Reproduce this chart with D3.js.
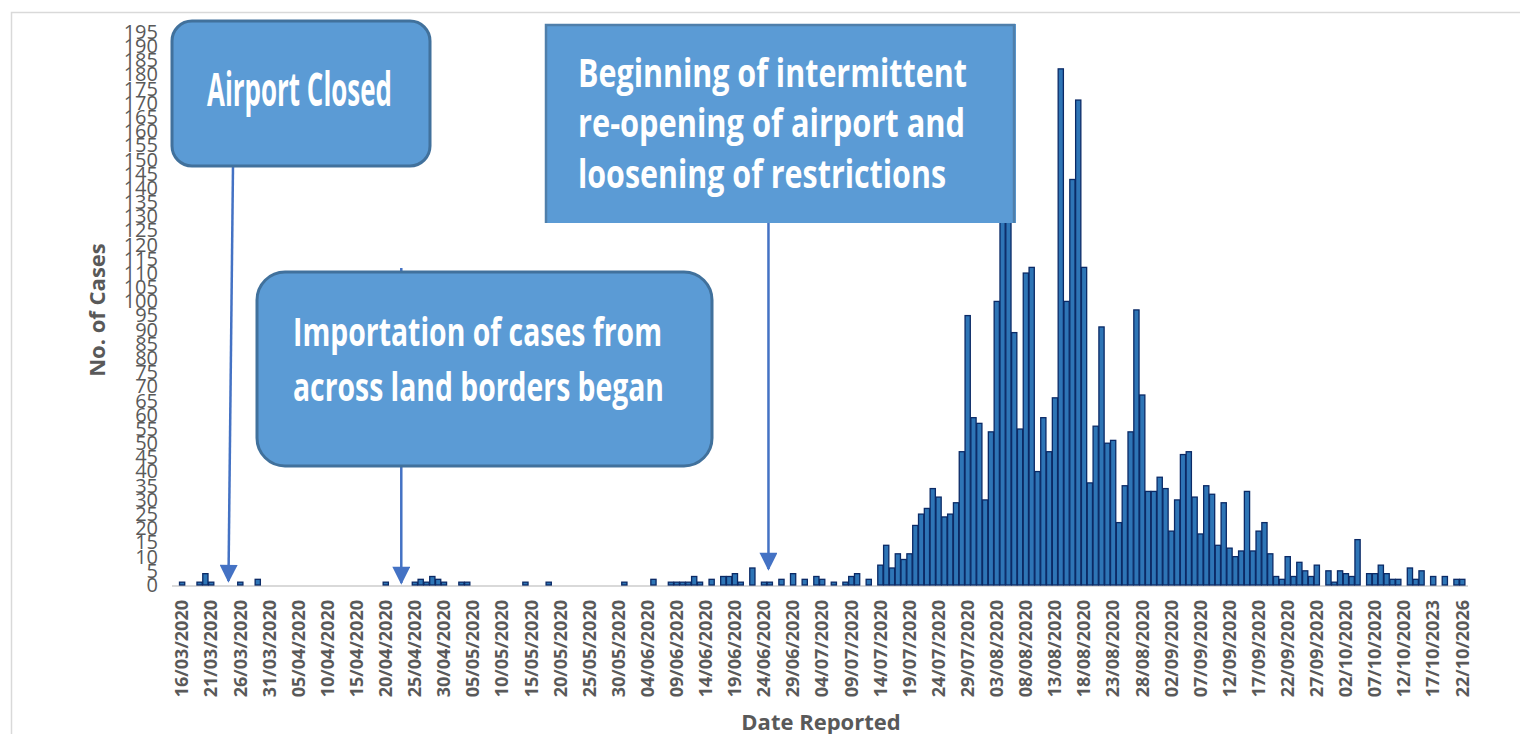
<!DOCTYPE html>
<html>
<head>
<meta charset="utf-8">
<script src="https://cdn.jsdelivr.net/npm/d3@7"></script>
<style>
  body { margin: 0; background: #fff; }
  svg { display: block; font-family: 'Open Sans', sans-serif; }
</style>
</head>
<body>
<div id="chart"></div>
<script>
// Daily reported cases, one value per day starting 16/03/2020
const startDate = '2020-03-16'
const dailyCases = [
  1, 0, 0, 1, 4, 1, 0, 0, 0, 0, 1, 0, 0, 2, 0, 0, 0, 0, 0, 0,
  0, 0, 0, 0, 0, 0, 0, 0, 0, 0, 0, 0, 0, 0, 0, 1, 0, 0, 0, 0,
  1, 2, 1, 3, 2, 1, 0, 0, 1, 1, 0, 0, 0, 0, 0, 0, 0, 0, 0, 1,
  0, 0, 0, 1, 0, 0, 0, 0, 0, 0, 0, 0, 0, 0, 0, 0, 1, 0, 0, 0,
  0, 2, 0, 0, 1, 1, 1, 1, 3, 1, 0, 2, 0, 3, 3, 4, 1, 0, 6, 0,
  1, 1, 0, 2, 0, 4, 0, 2, 0, 3, 2, 0, 1, 0, 1, 3, 4, 0, 2, 0,
  7, 14, 6, 11, 9, 11, 21, 25, 27, 34, 31, 24, 25, 29, 47, 95, 59, 57, 30, 54,
  100, 148, 135, 89, 55, 110, 112, 40, 59, 47, 66, 182, 100, 143, 171, 112, 36, 56, 91, 50,
  51, 22, 35, 54, 97, 67, 33, 33, 38, 34, 19, 30, 46, 47, 31, 18, 35, 32, 14, 29,
  13, 10, 12, 33, 12, 19, 22, 11, 3, 2, 10, 3, 8, 5, 3, 7, 0, 5, 1, 5,
  4, 3, 16, 0, 4, 4, 7, 4, 2, 2, 0, 6, 2, 5, 0, 3, 0, 3, 0, 2,
  2
]

// Tick labels as printed on the axis (every fifth day)
const tickLabels = [
  '16/03/2020', '21/03/2020', '26/03/2020', '31/03/2020', '05/04/2020', '10/04/2020',
  '15/04/2020', '20/04/2020', '25/04/2020', '30/04/2020', '05/05/2020', '10/05/2020',
  '15/05/2020', '20/05/2020', '25/05/2020', '30/05/2020', '04/06/2020', '09/06/2020',
  '14/06/2020', '19/06/2020', '24/06/2020', '29/06/2020', '04/07/2020', '09/07/2020',
  '14/07/2020', '19/07/2020', '24/07/2020', '29/07/2020', '03/08/2020', '08/08/2020',
  '13/08/2020', '18/08/2020', '23/08/2020', '28/08/2020', '02/09/2020', '07/09/2020',
  '12/09/2020', '17/09/2020', '22/09/2020', '27/09/2020', '02/10/2020', '07/10/2020',
  '12/10/2020', '17/10/2023', '22/10/2026'
]
const tickEvery = 5

const yTicks = d3.range(0, 200, 5)

// Annotations: day (fractional, from 16/03) the arrow points at, and the text lines
const annotations = [
  { name: 'airport', day: 8, lines: ['Airport Closed'] },
  { name: 'borders', day: 37.7, lines: ['Importation of cases from', 'across land borders began'] },
  { name: 'reopen', day: 100.8, lines: ['Beginning of intermittent', 're-opening of airport and', 'loosening of restrictions'] }
]

const width = 1520
const height = 734
const margin = { top: 32, right: 55, bottom: 149, left: 179 }
const textGrey = '#595959'
const arrowBlue = '#4472c4'
const boxFill = '#5b9bd5'
const boxStroke = '#41719c'

const parseDay = d3.utcParse('%Y-%m-%d')
const days = dailyCases.map((v, i) => d3.utcDay.offset(parseDay(startDate), i))
const data = dailyCases.map((v, i) => ({ i, date: days[i], value: v }))

const x = d3.scaleBand()
  .domain(data.map(d => d.i))
  .range([margin.left, width - margin.right])
  .paddingInner(0)

const y = d3.scaleLinear()
  .domain([0, 195])
  .range([height - margin.bottom, margin.top])

// centre of a (possibly fractional) day on the band scale
const xc = d => x(Math.floor(d)) + x.bandwidth() / 2 + (d - Math.floor(d)) * x.step()

const svg = d3.select('#chart')
  .append('svg')
  .attr('width', width)
  .attr('height', height)
  .attr('viewBox', [0, 0, width, height])

svg.append('rect')
  .attr('width', width)
  .attr('height', height)
  .attr('fill', '#fff')

// light outer frame
svg.append('path')
  .attr('d', `M11.5,${height} V12.5 H${width}`)
  .attr('fill', 'none')
  .attr('stroke', '#d9d9d9')
  .attr('stroke-width', 1.5)

// baseline
svg.append('line')
  .attr('x1', margin.left - 7)
  .attr('x2', width - margin.right + 3)
  .attr('y1', y(0) + 1)
  .attr('y2', y(0) + 1)
  .attr('stroke', '#d9d9d9')
  .attr('stroke-width', 2)

// y axis labels (they overlap in the original too)
const yAxis = d3.axisLeft(y)
  .tickValues(yTicks)
  .tickSize(0)
  .tickPadding(0)

svg.append('g')
  .attr('transform', `translate(${margin.left - 21}, 0)`)
  .call(yAxis)
  .call(g => g.select('.domain').remove())
  .call(g => g.selectAll('.tick text')
    .attr('fill', textGrey)
    .attr('font-family', 'Open Sans, sans-serif')
    .attr('font-size', 20))

// x axis labels, rotated
const xAxis = d3.axisBottom(x)
  .tickValues(data.filter(d => d.i % tickEvery === 0).map(d => d.i))
  .tickSize(0)
  .tickFormat(i => tickLabels[i / tickEvery])

svg.append('g')
  .attr('transform', `translate(0, ${y(0) + 15})`)
  .call(xAxis)
  .call(g => g.select('.domain').remove())
  .call(g => g.selectAll('.tick text')
    .attr('fill', textGrey)
    .attr('font-family', 'Open Sans, sans-serif')
    .attr('font-weight', 'bold')
    .attr('font-size', 18)
    .attr('text-anchor', 'end')
    .attr('transform', 'rotate(-90)')
    .attr('x', 0)
    .attr('y', 0)
    .attr('dy', '0.36em'))

// bars
svg.append('g')
  .attr('class', 'bars')
  .selectAll('rect')
  .data(data.filter(d => d.value > 0))
  .join('rect')
  .attr('x', d => x(d.i) + 0.5)
  .attr('y', d => y(d.value))
  .attr('width', x.bandwidth() - 0.6)
  .attr('height', d => y(0) - y(d.value))
  .attr('fill', '#2e75b6')
  .attr('stroke', '#0b2a66')
  .attr('stroke-width', 1.3)

// axis titles
svg.append('text')
  .attr('transform', `translate(105, 310) rotate(-90)`)
  .attr('text-anchor', 'middle')
  .attr('fill', textGrey)
  .attr('font-weight', 'bold')
  .attr('font-size', 22)
  .text('No. of Cases')

svg.append('text')
  .attr('x', 821)
  .attr('y', 730)
  .attr('text-anchor', 'middle')
  .attr('fill', textGrey)
  .attr('font-weight', 'bold')
  .attr('font-size', 22)
  .text('Date Reported')

/* Annotations */
const defs = svg.append('defs')
defs.append('marker')
  .attr('id', 'arrowhead')
  .attr('viewBox', '0 0 10 10')
  .attr('refX', 9)
  .attr('refY', 5)
  .attr('markerUnits', 'userSpaceOnUse')
  .attr('markerWidth', 22)
  .attr('markerHeight', 18)
  .attr('orient', 'auto')
  .append('path')
  .attr('d', 'M0,0 L10,5 L0,10 Z')
  .attr('fill', arrowBlue)

const ann = Object.fromEntries(annotations.map(a => [a.name, a]))

const drawArrow = (x1, y1, day, tipY) => {
  svg.append('line')
    .attr('x1', x1)
    .attr('y1', y1)
    .attr('x2', xc(day))
    .attr('y2', tipY)
    .attr('stroke', arrowBlue)
    .attr('stroke-width', 2.5)
    .attr('marker-end', 'url(#arrowhead)')
}

const drawLines = (lines, x0, baselines, widths, size) => {
  lines.forEach((line, k) => {
    svg.append('text')
      .attr('x', x0)
      .attr('y', baselines[k])
      .attr('fill', '#fff')
      .attr('font-weight', 'bold')
      .attr('font-size', size)
      .attr('textLength', widths[k])
      .attr('lengthAdjust', 'spacingAndGlyphs')
      .text(line)
  })
}

// arrows first, boxes drawn on top of them
drawArrow(233, 166, ann.airport.day, y(0) - 4)
drawArrow(xc(ann.borders.day), 268, ann.borders.day, y(0) - 2)
drawArrow(xc(ann.reopen.day), 222, ann.reopen.day, y(0) - 16)

// Airport Closed
svg.append('rect')
  .attr('x', 172).attr('y', 21)
  .attr('width', 258).attr('height', 145)
  .attr('rx', 20)
  .attr('fill', boxFill)
  .attr('stroke', boxStroke)
  .attr('stroke-width', 3)
drawLines(ann.airport.lines, 207, [106], [185], 46)

// Importation of cases
svg.append('rect')
  .attr('x', 257).attr('y', 272)
  .attr('width', 455).attr('height', 194)
  .attr('rx', 28)
  .attr('fill', boxFill)
  .attr('stroke', boxStroke)
  .attr('stroke-width', 3)
drawLines(ann.borders.lines, 293, [346, 401], [369, 371], 39)

// Re-opening of airport
svg.append('rect')
  .attr('x', 545).attr('y', 24)
  .attr('width', 471).attr('height', 199)
  .attr('fill', boxFill)
svg.append('path')
  .attr('d', 'M546,223 V25 H1014 V223')
  .attr('fill', 'none')
  .attr('stroke', '#4f7fab')
  .attr('stroke-width', 2.5)
drawLines(ann.reopen.lines, 578, [87, 137, 188], [389, 387, 368], 40)
</script>
</body>
</html>
